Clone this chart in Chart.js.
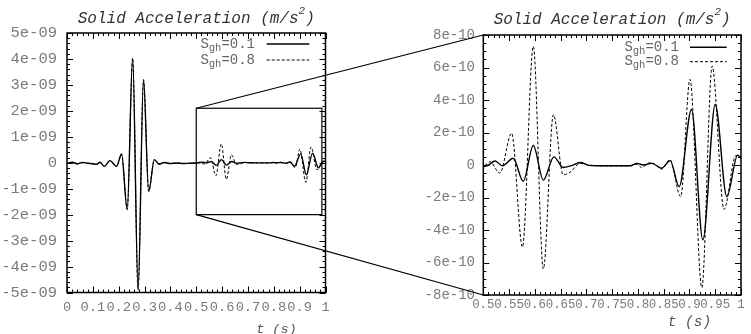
<!DOCTYPE html>
<html>
<head>
<meta charset="utf-8">
<script src="https://cdn.jsdelivr.net/npm/chart.js@4.4.1/dist/chart.umd.min.js"></script>
<style>
  html, body { margin: 0; padding: 0; background: #fff; }
  #wrap { position: relative; width: 751px; height: 334px; overflow: hidden; }
  #wrap canvas { position: absolute; top: 0; }
  #full { left: 0; }
  #zoom { left: 375px; }
  #links { left: 0; pointer-events: none; }
</style>
</head>
<body>
<div id="wrap">
  <canvas id="full" width="375" height="334"></canvas>
  <canvas id="zoom" width="376" height="334"></canvas>
  <canvas id="links" width="751" height="334"></canvas>
</div>
<script>
// accelerations are in units of 1e-10 m/s^2

// main pulse, both runs lie on top of each other here
const tPulse = [0, 0.02, 0.04, 0.06, 0.08, 0.1, 0.114, 0.128, 0.144, 0.166, 0.192, 0.211,
  0.233, 0.254, 0.275, 0.296, 0.316, 0.338, 0.356, 0.375, 0.4, 0.425, 0.45, 0.475];
const aPulse = [-0.3, 0.2, -0.4, 0.1, -0.2, -0.4, -0.6, 0.2, -1.4, 0.8, -1.4, 3.4,
  -18.0, 40.3, -49.0, 32.0, -11.0, 1.2, -0.5, 0.1, -0.3, -0.1, -0.3, -0.2];

// reflections, S_gh = 0.1
const tTail01 = [0.5, 0.51, 0.523, 0.537, 0.558, 0.5775, 0.597, 0.6165, 0.637, 0.655, 0.67,
  0.688, 0.705, 0.73, 0.76, 0.785, 0.798, 0.81, 0.827, 0.846, 0.8625, 0.88, 0.904, 0.926,
  0.95, 0.9725, 0.9935, 1.0];
const aTail01 = [-0.1, 0.0, 0.25, -0.05, 0.42, -1.0, 1.2, -0.93, 0.5, -0.15, -0.05,
  0.15, -0.02, -0.05, -0.05, -0.05, 0.1, 0.0, 0.1, -0.2, 0.27, -1.33, 3.42, -4.6,
  3.72, -1.95, 0.6, 0.45];

// reflections, S_gh = 0.8
const tTail08 = [0.5, 0.513, 0.532, 0.555, 0.576, 0.597, 0.6165, 0.636, 0.655, 0.668, 0.688,
  0.705, 0.73, 0.76, 0.785, 0.798, 0.807, 0.824, 0.835, 0.846, 0.862, 0.883, 0.901, 0.924,
  0.944, 0.967, 0.99, 1.0];
const aTail08 = [-0.1, 0.2, -0.5, 1.95, -5.05, 7.3, -6.4, 3.1, -0.6, -0.45, 0.1,
  0.0, -0.05, -0.05, -0.05, 0.05, -0.15, 0.15, 0.0, -0.25, 0.33, -1.95, 5.27, -7.55,
  6.08, -2.73, 0.58, 0.4];

const legendRows = [
  { base: 'S', sub: 'gh', rest: '=0.1' },
  { base: 'S', sub: 'gh', rest: '=0.8' },
];

// title is drawn in pieces so the exponent can be raised
const titleParts = ['Solid Acceleration (m/s', '2', ')'];
const xTitle = 't (s)';

const fullXTicks = [0, 0.1, 0.2, 0.3, 0.4, 0.5, 0.6, 0.7, 0.8, 0.9, 1];
const fullXLabels = ['0', '0.1', '0.2', '0.3', '0.4', '0.5', '0.6', '0.7', '0.8', '0.9', '1'];
const fullYTicks = [-50, -40, -30, -20, -10, 0, 10, 20, 30, 40, 50];
const fullYLabels = ['-5e-09', '-4e-09', '-3e-09', '-2e-09', '-1e-09', '0',
  '1e-09', '2e-09', '3e-09', '4e-09', '5e-09'];

const zoomXTicks = [0.5, 0.55, 0.6, 0.65, 0.7, 0.75, 0.8, 0.85, 0.9, 0.95, 1];
const zoomXLabels = ['0.5', '0.55', '0.6', '0.65', '0.7', '0.75', '0.8', '0.85', '0.9', '0.95', '1'];
const zoomYTicks = [-8, -6, -4, -2, 0, 2, 4, 6, 8];
const zoomYLabels = ['-8e-10', '-6e-10', '-4e-10', '-2e-10', '0', '2e-10', '4e-10', '6e-10', '8e-10'];

// the boxed region of the left plot that the right plot enlarges
const zoomBox = { t: [0.5, 0.986], a: [-20, 21] };

const MONO = "'Liberation Mono', 'DejaVu Sans Mono', monospace";

const points = (ts, as) => ts.map((x, i) => ({ x, y: as[i] }));
const run01 = () => points(tPulse.concat(tTail01), aPulse.concat(aTail01));
const run08 = () => points(tPulse.concat(tTail08), aPulse.concat(aTail08));

const steps = (min, max, step) =>
  Array.from({ length: Math.round((max - min) / step) + 1 }, (_, i) => min + i * step);

// gnuplot look: closed border, inward tics on all four sides, legend with subscripts
const frame = {
  id: 'frame',
  afterDraw(chart, args, o) {
    const { ctx, chartArea: a, scales: { x, y } } = chart;
    ctx.save();
    ctx.strokeStyle = '#000';
    ctx.lineWidth = 1;
    ctx.beginPath();
    const xTics = (vals, len) => vals.forEach(v => {
      const px = Math.round(x.getPixelForValue(v)) + 0.5;
      ctx.moveTo(px, a.bottom); ctx.lineTo(px, a.bottom - len);
      ctx.moveTo(px, a.top); ctx.lineTo(px, a.top + len);
    });
    const yTics = (vals, len) => vals.forEach(v => {
      const py = Math.round(y.getPixelForValue(v)) + 0.5;
      ctx.moveTo(a.left, py); ctx.lineTo(a.left + len, py);
      ctx.moveTo(a.right, py); ctx.lineTo(a.right - len, py);
    });
    xTics(steps(x.min, x.max, o.xMinor), o.minor);
    yTics(steps(y.min, y.max, o.yMinor), o.minor);
    xTics(x.ticks.map(tk => tk.value), o.major);
    yTics(y.ticks.map(tk => tk.value), o.major);
    ctx.stroke();

    ctx.lineWidth = 1.5;
    ctx.strokeRect(a.left, a.top, a.right - a.left, a.bottom - a.top);

    if (o.box) {
      ctx.lineWidth = 1.2;
      const x1 = x.getPixelForValue(o.box.t[0]), x2 = x.getPixelForValue(o.box.t[1]);
      const y1 = y.getPixelForValue(o.box.a[1]), y2 = y.getPixelForValue(o.box.a[0]);
      ctx.strokeRect(x1, y1, x2 - x1, y2 - y1);
    }

    const L = o.legend;
    chart.data.datasets.forEach((ds, i) => {
      const row = legendRows[i];
      const ly = a.top + L.top + i * L.gap;
      const x2 = a.right - L.inset, x1 = x2 - L.len;
      ctx.strokeStyle = ds.borderColor;
      ctx.lineWidth = ds.borderWidth;
      ctx.setLineDash(ds.borderDash || []);
      ctx.beginPath(); ctx.moveTo(x1, ly); ctx.lineTo(x2, ly); ctx.stroke();
      ctx.setLineDash([]);
      ctx.fillStyle = '#666';
      ctx.textAlign = 'right';
      ctx.textBaseline = 'middle';
      let tx = x1 - L.pad;
      ctx.font = `${L.size}px ${MONO}`;
      ctx.fillText(row.rest, tx, ly);
      tx -= ctx.measureText(row.rest).width;
      ctx.font = `${L.subSize}px ${MONO}`;
      ctx.fillText(row.sub, tx, ly + L.drop);
      tx -= ctx.measureText(row.sub).width;
      ctx.font = `${L.size}px ${MONO}`;
      ctx.fillText(row.base, tx, ly);
    });

    const T = o.xTitle;
    ctx.font = `italic ${T.size}px ${MONO}`;
    ctx.fillStyle = '#555';
    ctx.textAlign = 'center';
    ctx.fillText(T.text, a.left + T.at * (a.right - a.left), a.bottom + T.dy);

    // plot title with superscript exponent, centred on the plot box
    const big = `italic 16px ${MONO}`, small = `italic 11px ${MONO}`;
    ctx.fillStyle = '#333';
    ctx.textAlign = 'left';
    ctx.textBaseline = 'alphabetic';
    ctx.font = big;
    const w0 = ctx.measureText(titleParts[0]).width, w2 = ctx.measureText(titleParts[2]).width;
    ctx.font = small;
    const w1 = ctx.measureText(titleParts[1]).width;
    let tx = (a.left + a.right) / 2 - (w0 + w1 + w2) / 2;
    ctx.font = big;
    ctx.fillText(titleParts[0], tx, o.titleBase);
    ctx.font = small;
    ctx.fillText(titleParts[1], tx + w0, o.titleBase - 9);
    ctx.font = big;
    ctx.fillText(titleParts[2], tx + w0 + w1, o.titleBase);
    ctx.restore();
  }
};

function makeChart(id, cfg) {
  const ctx = document.getElementById(id).getContext('2d');
  return new Chart(ctx, {
    type: 'line',
    data: {
      datasets: [{
        label: 'S_gh=0.1',
        data: run01(),
        borderColor: '#000',
        borderWidth: 1.4,
        pointRadius: 0,
        cubicInterpolationMode: 'monotone',
        order: 2,
      }, {
        label: 'S_gh=0.8',
        data: run08(),
        borderColor: '#000',
        borderWidth: 1,
        borderDash: [3, 2],
        pointRadius: 0,
        cubicInterpolationMode: 'monotone',
        order: 1,
      }]
    },
    options: {
      responsive: false,
      animation: false,
      devicePixelRatio: 1,
      events: [],
      layout: { padding: cfg.padding },
      plugins: {
        legend: { display: false },
        tooltip: { enabled: false },
        frame: cfg.frame
      },
      scales: {
        x: {
          type: 'linear',
          min: cfg.xTicks[0],
          max: cfg.xTicks[cfg.xTicks.length - 1],
          afterFit: s => { s.height = cfg.xHeight; },
          afterBuildTicks: s => { s.ticks = cfg.xTicks.map(value => ({ value })); },
          grid: { display: false, drawTicks: false },
          border: { display: false },
          ticks: {
            autoSkip: false,
            maxRotation: 0,
            minRotation: 0,
            padding: cfg.xPad,
            color: '#7a7a7a',
            font: { family: MONO, size: cfg.xFont },
            callback: (v, i) => cfg.xLabels[i]
          }
        },
        y: {
          min: cfg.yTicks[0],
          max: cfg.yTicks[cfg.yTicks.length - 1],
          afterFit: s => { s.width = cfg.yWidth; },
          afterBuildTicks: s => { s.ticks = cfg.yTicks.map(value => ({ value })); },
          grid: { display: false, drawTicks: false },
          border: { display: false },
          ticks: {
            autoSkip: false,
            padding: cfg.yPad,
            color: '#7a7a7a',
            font: { family: MONO, size: cfg.yFont },
            callback: (v, i) => cfg.yLabels[i]
          }
        }
      }
    },
    plugins: [frame]
  });
}

const fullChart = makeChart('full', {
  padding: { left: 0, right: 49.5, top: 33, bottom: 0 },
  xTicks: fullXTicks, xLabels: fullXLabels, xHeight: 41.5, xPad: 6.3, xFont: 13.7,
  yTicks: fullYTicks, yLabels: fullYLabels, yWidth: 67, yPad: 10, yFont: 15.5,
  frame: {
    xMinor: 0.02, yMinor: 2, major: 6, minor: 3, box: zoomBox, titleBase: 23,
    legend: { top: 11, gap: 16, len: 42.6, inset: 16.2, pad: 11.7, size: 14, subSize: 10.5, drop: 4 },
    xTitle: { text: xTitle, at: 0.81, dy: 36.5, size: 13.5 }
  }
});

const zoomChart = makeChart('zoom', {
  padding: { left: 0, right: 10, top: 35, bottom: 0 },
  xTicks: zoomXTicks, xLabels: zoomXLabels, xHeight: 39, xPad: 2.6, xFont: 12.4,
  yTicks: zoomYTicks, yLabels: zoomYLabels, yWidth: 108.3, yPad: 8.3, yFont: 14,
  frame: {
    xMinor: 0.01, yMinor: 0.5, major: 6, minor: 3, titleBase: 24,
    legend: { top: 12.3, gap: 14.4, len: 36.7, inset: 14.3, pad: 11, size: 14, subSize: 10.5, drop: 4 },
    xTitle: { text: xTitle, at: 0.8, dy: 27, size: 14.5 }
  }
});

// lines tying the box corners to the enlarged plot
const links = document.getElementById('links').getContext('2d');
const zoomOffset = document.getElementById('zoom').offsetLeft;
links.strokeStyle = '#000';
links.lineWidth = 1.2;
[[zoomBox.a[1], zoomChart.scales.y.max], [zoomBox.a[0], zoomChart.scales.y.min]].forEach(([from, to]) => {
  links.beginPath();
  links.moveTo(fullChart.scales.x.getPixelForValue(zoomBox.t[0]), fullChart.scales.y.getPixelForValue(from));
  links.lineTo(zoomOffset + zoomChart.scales.x.getPixelForValue(zoomChart.scales.x.min),
    zoomChart.scales.y.getPixelForValue(to));
  links.stroke();
});
</script>
</body>
</html>
